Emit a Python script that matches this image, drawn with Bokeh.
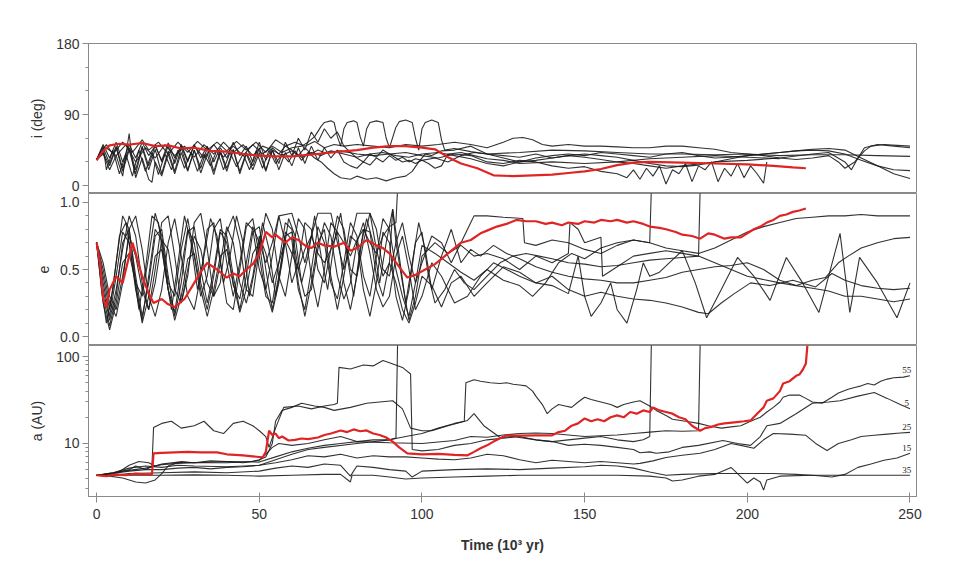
from bokeh.plotting import figure
from bokeh.layouts import column
from bokeh.models import Range1d, FixedTicker, ColumnDataSource, PrintfTickFormatter
from bokeh.core.properties import value
from bokeh.embed import file_html
from bokeh.resources import INLINE

# ---------------- data: time in 10^3 yr ----------------
x_ticks = [0, 50, 100, 150, 200, 250]
i_ticks = [0, 90, 180]
i_minor = [30, 60, 120, 150]
e_ticks = [0.0, 0.5, 1.0]
e_minor = [0.1, 0.2, 0.3, 0.4, 0.6, 0.7, 0.8, 0.9]
a_ticks = [10, 100]
a_minor = [3, 4, 5, 6, 7, 8, 9, 20, 30, 40, 50, 60, 70, 80, 90]

# inclination (deg)
i_red = [(0,32),(2,44),(4,51),(7,53),(10,52),(14,54),(18,50),(22,51),(26,47),(30,48),(35,44),(40,43),(45,40),(50,38),(55,37),(60,37),(65,39),(70,41),(75,43),(80,45),(85,48),(90,50),(95,50),(100,48),(104,46),(108,36),(112,28),(117,22),(122,13),(128,12),(134,13),(140,14),(145,16),(150,18),(155,21),(160,26),(165,29),(170,30),(180,29),(190,28),(200,27),(208,25),(214,23),(218,22)]
i_1 = [(0,33),(2,48),(4,28),(6,50),(8,22),(10,48),(12,20),(14,50),(16,25),(18,52),(20,30),(22,50),(24,28),(26,52),(28,32),(30,50),(33,35),(36,52),(39,36),(42,50),(45,38),(48,52),(51,40),(54,50),(57,42),(60,48),(63,50),(65,55),(67,62),(69,75),(70,80),(72,82),(73,80),(74,62),(75,50),(76,72),(77,80),(79,82),(80,80),(81,62),(82,50),(83,72),(84,80),(86,82),(88,80),(89,60),(90,48),(92,74),(93,81),(95,83),(97,80),(98,60),(99,45),(100,72),(101,80),(103,83),(105,80),(106,58),(107,45),(110,47),(115,43),(120,40),(130,42),(140,45),(150,44),(160,42),(170,40),(180,40),(190,39),(200,40),(210,38),(220,39),(230,39),(240,38),(250,37)]
i_2 = [(0,33),(2,50),(3,20),(5,45),(7,15),(9,40),(11,12),(13,45),(15,18),(17,42),(19,14),(21,40),(23,20),(25,45),(27,22),(29,42),(31,18),(33,40),(35,25),(37,45),(39,20),(41,42),(43,24),(45,40),(47,20),(49,44),(51,22),(53,45),(55,28),(57,40),(59,30),(61,44),(63,32),(65,42),(67,35),(69,30),(71,22),(73,15),(75,10),(78,8),(80,12),(83,8),(86,10),(89,6),(92,10),(95,12),(97,18),(99,30),(101,40),(103,38),(106,44),(110,45),(115,50),(120,40),(125,38),(130,36),(135,40),(140,35),(145,38),(150,36),(155,33),(160,30),(165,28),(170,25),(175,22),(180,25),(190,30),(200,32),(210,35),(220,40),(225,42),(230,30),(232,20),(234,35),(236,48),(240,52),(245,50),(250,48)]
i_3 = [(0,33),(2,52),(4,35),(6,55),(8,30),(10,52),(12,35),(14,55),(16,38),(18,50),(20,32),(22,54),(24,35),(26,50),(28,30),(30,52),(32,35),(34,50),(36,30),(38,48),(40,35),(42,55),(44,38),(46,50),(48,30),(50,55),(52,32),(54,48),(56,40),(58,50),(60,45),(62,38),(64,48),(66,40),(68,45),(70,42),(75,44),(80,40),(85,38),(90,40),(95,42),(100,38),(105,35),(110,40),(115,38),(120,30),(125,28),(130,32),(135,30),(140,25),(145,22),(150,24),(155,18),(160,15),(163,10),(165,20),(167,8),(169,22),(171,12),(173,25),(175,2),(177,20),(179,15),(181,28),(183,5),(185,25),(187,20),(189,30),(191,5),(193,22),(195,12),(197,28),(199,10),(201,25),(203,15),(205,3),(206,30)]
i_4 = [(0,33),(3,52),(5,40),(8,55),(11,42),(14,58),(16,45),(19,55),(22,40),(25,55),(28,42),(31,56),(34,45),(37,55),(40,44),(43,56),(46,45),(49,55),(52,42),(55,58),(58,50),(61,55),(64,50),(67,56),(70,48),(73,52),(76,50),(80,52),(85,50),(90,48),(95,52),(100,50),(105,52),(110,55),(115,52),(120,48),(125,55),(128,60),(131,61),(134,58),(137,52),(140,50),(145,52),(150,50),(155,50),(160,49),(165,48),(170,48),(175,50),(180,50),(185,48),(190,46),(195,42),(200,40),(205,38),(210,35),(215,33),(220,35),(225,38),(228,30),(230,22),(233,30),(236,44),(238,50),(242,52),(246,51),(250,50)]
i_5 = [(0,33),(2,42),(4,25),(6,48),(8,18),(10,45),(12,15),(14,48),(16,20),(18,46),(20,15),(22,44),(24,18),(26,48),(28,20),(30,45),(32,22),(34,48),(36,18),(38,44),(40,22),(42,46),(44,18),(46,42),(48,25),(50,48),(52,20),(54,45),(56,28),(58,55),(60,38),(62,60),(64,45),(66,68),(68,55),(70,72),(72,60),(74,68),(76,50),(78,42),(80,35),(82,30),(84,40),(86,36),(88,45),(90,40),(92,35),(94,30),(96,32),(98,28),(100,32),(104,35),(108,30),(112,38),(116,42),(120,40),(125,35),(130,30),(135,32),(140,35),(145,38),(150,40),(155,38),(160,36),(165,32),(170,28),(175,25),(180,24),(185,26),(190,30),(195,34),(200,38),(205,40),(210,42),(215,44),(220,45),(225,44),(230,40),(235,32),(240,25),(245,20),(250,19)]
i_6 = [(0,33),(3,48),(6,38),(9,52),(12,30),(15,48),(18,35),(21,52),(24,38),(27,50),(30,36),(33,52),(36,40),(39,55),(42,42),(45,52),(48,38),(51,50),(54,45),(57,38),(60,44),(63,36),(66,42),(69,38),(72,44),(76,40),(80,36),(84,40),(88,42),(92,38),(96,36),(100,40),(105,42),(110,38),(115,34),(120,28),(125,25),(130,30),(135,35),(140,38),(145,40),(150,38),(155,42),(160,40),(165,38),(170,36),(175,40),(180,42),(185,38),(190,35),(195,36),(200,38),(205,40),(210,42),(215,44),(220,46),(225,47),(230,45),(235,35),(240,25),(245,15),(250,9)]
i_7 = [(0,33),(2,40),(4,20),(6,38),(8,12),(10,66),(11,30),(12,10),(14,35),(16,8),(17,4),(18,30),(20,12),(22,40),(24,15),(26,42),(28,18),(30,45),(32,16),(34,40),(36,14),(38,42),(40,18),(42,45),(44,15),(46,40),(48,20),(50,42),(52,18),(54,45),(56,20),(58,42),(60,25),(62,48),(64,28),(66,50),(68,32),(70,48),(72,35),(74,45),(76,30),(78,25),(80,22),(82,30),(84,26),(86,35),(88,30),(90,38),(92,32),(94,36),(96,30),(98,34),(100,32),(102,28),(104,22),(106,25),(108,40),(112,42),(116,38),(120,34),(125,32),(130,28),(140,30),(150,28),(160,30),(170,34),(180,36),(190,38),(200,36),(210,34)]

# eccentricity
e_red = [(0,0.70),(1,0.55),(2,0.28),(3,0.22),(4,0.35),(6,0.45),(8,0.40),(10,0.60),(11,0.70),(12,0.62),(14,0.45),(16,0.32),(17.5,0.25),(20,0.28),(22,0.24),(24,0.22),(27,0.28),(30,0.40),(32,0.48),(34,0.55),(37,0.50),(40,0.44),(42,0.47),(44,0.45),(46,0.50),(48,0.54),(50,0.62),(52,0.78),(54,0.74),(55,0.76),(58,0.70),(60,0.74),(62,0.72),(64,0.68),(66,0.66),(68,0.70),(70,0.68),(73,0.67),(76,0.70),(78,0.64),(80,0.66),(83,0.72),(86,0.68),(88,0.66),(90,0.62),(93,0.52),(95.5,0.44),(98,0.46),(101,0.50),(104,0.54),(106,0.58),(108,0.62),(110,0.66),(112,0.70),(115,0.72),(118,0.77),(120,0.79),(123,0.82),(126,0.84),(129,0.87),(132,0.86),(135,0.86),(138,0.84),(140,0.85),(143,0.83),(145,0.85),(148,0.84),(150,0.86),(153,0.85),(155,0.87),(158,0.86),(160,0.87),(163,0.85),(165,0.86),(168,0.84),(170,0.82),(173,0.81),(175,0.80),(178,0.78),(180,0.76),(183,0.75),(185.5,0.73),(188,0.77),(190,0.76),(193,0.73),(195,0.74),(198,0.74),(200,0.77),(202,0.80),(204,0.82),(206,0.85),(208,0.87),(210,0.90),(212,0.91),(214,0.93),(216,0.94),(218,0.955)]
e_1 = [(0,0.70),(1.5,0.35),(3,0.10),(5,0.35),(7,0.75),(9,0.85),(11,0.55),(13,0.20),(15,0.50),(17,0.90),(19,0.85),(21,0.50),(23,0.20),(25,0.55),(27,0.90),(29,0.70),(31,0.35),(33,0.60),(35,0.88),(37,0.75),(39,0.40),(41,0.60),(43,0.90),(45,0.70),(47,0.30),(49,0.55),(51,0.85),(53,0.65),(55,0.30),(57,0.55),(59,0.88),(61,0.75),(63,0.40),(65,0.60),(67,0.90),(69,0.60),(71,0.35),(73,0.70),(75,0.92),(77,0.60),(79,0.30),(81,0.65),(83,0.88),(85,0.70),(87,0.40),(89,0.70),(91,0.95),(93,0.60),(95,0.25),(97,0.55),(99,0.85),(101,0.65),(103,0.35),(106,0.60),(109,0.80),(112,0.55),(115,0.65),(118,0.60),(122,0.68),(126,0.62),(130,0.58),(135,0.52),(140,0.48),(145,0.45),(150,0.43),(155,0.42),(160,0.40),(165,0.40),(170,0.42),(175,0.44),(180,0.48),(185,0.50),(190,0.52),(195,0.53),(200,0.55),(205,0.50),(210,0.42),(215,0.38),(220,0.36),(225,0.34),(230,0.30),(235,0.30),(240,0.28),(245,0.26),(250,0.28)]
e_2 = [(0,0.70),(2,0.30),(4,0.08),(6,0.30),(8,0.70),(10,0.80),(12,0.45),(14,0.15),(16,0.40),(18,0.75),(20,0.80),(22,0.45),(24,0.15),(26,0.40),(28,0.78),(30,0.82),(32,0.50),(34,0.25),(36,0.50),(38,0.80),(40,0.75),(42,0.45),(44,0.20),(46,0.45),(48,0.78),(50,0.82),(52,0.50),(54,0.20),(56,0.45),(58,0.75),(60,0.78),(62,0.40),(64,0.15),(66,0.40),(68,0.70),(70,0.80),(72,0.45),(74,0.20),(76,0.45),(78,0.75),(80,0.70),(82,0.35),(84,0.15),(86,0.40),(88,0.78),(90,0.70),(92,0.30),(94,0.12),(96,0.35),(98,0.70),(100,0.78),(102,0.45),(104,0.25),(107,0.35),(110,0.50),(113,0.40),(116,0.35),(120,0.45),(124,0.55),(128,0.60),(132,0.62),(136,0.60),(140,0.58),(145,0.55),(150,0.54),(155,0.52),(160,0.53),(165,0.55),(170,0.57),(175,0.58),(180,0.59),(185,0.60),(190,0.55),(195,0.50),(200,0.45),(210,0.40),(215,0.38),(220,0.42),(224,0.44),(228,0.55),(231,0.60),(235,0.66),(240,0.70),(245,0.73),(250,0.74)]
e_3 = [(0,0.70),(2,0.45),(4,0.20),(6,0.55),(8,0.90),(10,0.80),(12,0.40),(14,0.30),(16,0.60),(18,0.92),(20,0.75),(22,0.40),(24,0.30),(26,0.65),(28,0.88),(30,0.60),(32,0.30),(34,0.45),(36,0.80),(38,0.88),(40,0.55),(42,0.30),(44,0.55),(46,0.85),(48,0.80),(50,0.50),(52,0.35),(54,0.60),(56,0.90),(58,0.70),(60,0.40),(62,0.55),(64,0.85),(66,0.80),(68,0.50),(70,0.40),(72,0.65),(74,0.90),(76,0.80),(78,0.50),(80,0.45),(82,0.70),(84,0.92),(86,0.80),(88,0.50),(90,0.45),(92,0.70),(94,0.85),(96,0.60),(98,0.40),(100,0.55),(103,0.75),(106,0.70),(109,0.55),(112,0.70),(115,0.85),(116,0.90),(120,0.90),(125,0.89),(131,0.88),(131.5,0.70),(135,0.68),(140,0.72),(145,0.70),(150,0.65),(155,0.62),(160,0.68),(165,0.72),(170,0.70),(175,0.66),(180,0.64),(185,0.62),(190,0.66),(195,0.72),(200,0.78),(205,0.82),(210,0.85),(215,0.88),(220,0.89),(225,0.90),(230,0.90),(235,0.91),(240,0.90),(245,0.90),(250,0.90)]
e_4 = [(0,0.70),(2,0.50),(4,0.25),(6,0.15),(8,0.40),(10,0.80),(12,0.90),(14,0.65),(16,0.30),(18,0.15),(20,0.35),(22,0.70),(24,0.88),(26,0.60),(28,0.30),(30,0.20),(32,0.45),(34,0.80),(36,0.85),(38,0.55),(40,0.25),(42,0.20),(44,0.50),(46,0.82),(48,0.88),(50,0.60),(52,0.30),(54,0.25),(56,0.55),(58,0.85),(60,0.80),(62,0.50),(64,0.30),(66,0.35),(68,0.65),(70,0.85),(72,0.75),(74,0.45),(76,0.28),(78,0.40),(80,0.70),(82,0.85),(84,0.62),(86,0.35),(88,0.22),(90,0.30),(92,0.60),(94,0.75),(96,0.50),(98,0.20),(100,0.30),(103,0.55),(106,0.45),(110,0.25),(114,0.30),(118,0.45),(122,0.55),(126,0.50),(130,0.45),(135,0.40),(140,0.38),(145,0.32),(148,0.60),(150,0.30),(152,0.15),(155,0.25),(158,0.40),(160,0.20),(163,0.10),(166,0.35),(168,0.55),(170,0.45),(173,0.48),(176,0.55),(180,0.64),(184,0.40),(187.5,0.14),(192,0.35),(197,0.59),(202,0.45),(207,0.27),(212,0.59),(217,0.40),(222,0.18),(225,0.45),(228.5,0.77),(231.5,0.18),(234.5,0.59),(240,0.40),(246,0.14),(250,0.40)]
e_5 = [(0,0.70),(2,0.40),(4,0.15),(6,0.45),(8,0.78),(10,0.70),(12,0.35),(14,0.12),(16,0.45),(18,0.80),(20,0.72),(22,0.35),(24,0.18),(26,0.50),(28,0.80),(30,0.70),(32,0.40),(34,0.20),(36,0.45),(38,0.78),(40,0.70),(42,0.38),(44,0.28),(46,0.55),(48,0.82),(50,0.70),(52,0.35),(54,0.18),(56,0.40),(58,0.78),(60,0.72),(62,0.35),(64,0.20),(66,0.50),(68,0.82),(70,0.70),(72,0.40),(74,0.28),(76,0.55),(78,0.85),(80,0.75),(82,0.45),(84,0.30),(86,0.60),(88,0.88),(90,0.80),(92,0.50),(94,0.30),(96,0.15),(98,0.40),(100,0.68),(104,0.62),(108,0.55),(112,0.48),(116,0.42),(120,0.50),(125,0.42),(130,0.38),(134,0.30),(138,0.40),(142,0.55),(146,0.62),(150,0.58),(155,0.66),(160,0.70),(165,0.72),(170,0.70),(170.5,1.1)]
e_6 = [(0,0.70),(2,0.35),(4,0.12),(6,0.35),(8,0.65),(10,0.90),(12,0.75),(14,0.40),(16,0.20),(18,0.50),(20,0.85),(22,0.90),(24,0.60),(26,0.25),(28,0.45),(30,0.85),(32,0.92),(34,0.65),(36,0.30),(38,0.40),(40,0.78),(42,0.90),(44,0.70),(46,0.35),(48,0.30),(50,0.65),(52,0.92),(54,0.80),(56,0.45),(58,0.30),(60,0.60),(62,0.88),(64,0.80),(66,0.45),(68,0.22),(70,0.50),(72,0.85),(74,0.78),(76,0.40),(78,0.20),(80,0.45),(82,0.80),(84,0.78),(86,0.45),(88,0.30),(90,0.55),(91,0.95),(92,0.70),(94,0.40),(96,0.12),(98,0.30),(100,0.60),(104,0.70),(108,0.62),(112,0.68),(116,0.60),(120,0.62),(125,0.58),(130,0.50),(135,0.60),(140,0.55),(145,0.62),(145.5,0.85),(148,0.80),(150,0.70),(155,0.74),(155.5,0.45),(160,0.52),(165,0.60),(170,0.62),(175,0.64),(180,0.62),(185,0.60),(185.5,1.1)]
e_7 = [(0,0.70),(2,0.55),(4,0.30),(6,0.20),(8,0.45),(10,0.75),(12,0.60),(14,0.35),(16,0.20),(18,0.40),(20,0.72),(22,0.65),(24,0.35),(26,0.25),(28,0.50),(30,0.75),(32,0.65),(34,0.40),(36,0.30),(38,0.55),(40,0.82),(42,0.70),(44,0.40),(46,0.25),(48,0.45),(50,0.75),(52,0.62),(54,0.40),(56,0.55),(58,0.72),(60,0.62),(62,0.50),(64,0.65),(66,0.75),(68,0.62),(70,0.55),(72,0.65),(74,0.78),(76,0.70),(78,0.60),(80,0.72),(82,0.80),(84,0.70),(86,0.62),(88,0.75),(90,0.82),(92,0.85),(92.5,1.1)]
e_8 = [(0,0.70),(2,0.25),(4,0.05),(6,0.25),(8,0.55),(10,0.62),(12,0.40),(14,0.10),(16,0.30),(18,0.60),(20,0.65),(22,0.35),(24,0.12),(26,0.30),(28,0.58),(30,0.62),(32,0.35),(34,0.15),(36,0.35),(38,0.60),(40,0.65),(42,0.40),(44,0.18),(46,0.35),(48,0.62),(50,0.70),(52,0.55),(54,0.70),(56,0.90),(60,0.92),(62,0.75),(64,0.55),(66,0.75),(68,0.92),(72,0.92),(74,0.70),(76,0.50),(78,0.70),(80,0.92),(84,0.92),(86,0.65),(88,0.45),(90,0.55),(92,0.40),(94,0.20),(96,0.10),(98,0.25),(100,0.45),(103,0.38),(106,0.22),(109,0.40),(112,0.45),(116,0.30),(120,0.40),(125,0.52),(130,0.48),(135,0.40),(140,0.45),(145,0.35),(150,0.30),(155,0.33),(160,0.30),(165,0.28),(170,0.27),(175,0.25),(180,0.22),(185,0.18),(188,0.17),(192,0.25),(196,0.32),(201,0.40),(207,0.38),(214,0.42),(221,0.37),(226,0.47),(230,0.42),(235,0.38),(240,0.36),(245,0.35),(250,0.36)]

# semimajor axis (AU)
a_red = [(0,4.3),(3,4.2),(6,4.4),(9,4.3),(12,4.5),(15,4.4),(17,4.4),(17.5,7.7),(20,7.8),(24,7.9),(28,8.0),(32,7.9),(37,7.9),(40,7.5),(45,7.3),(48,7.1),(51,6.9),(52,8),(53,14),(54,12.5),(55,13),(56,11.5),(57,12),(59,10.8),(61,11),(63,11.4),(65,11.2),(68,11.7),(70,12.5),(72,13),(75,14.1),(77,13.5),(79,14.5),(81,13.8),(83,14.1),(85,13),(87,12.5),(89,11.7),(91,10.5),(93,9),(95.5,7.7),(100,7.5),(105,7.6),(110,7.4),(114,7.3),(116,8),(118,8.8),(120,9.5),(122,10.5),(124,11.5),(126,12.4),(130,12.3),(135,12.4),(140,12.4),(142,13.5),(144,14),(146,16),(148,17),(150,19.4),(152,18),(154,19),(156,18),(158,20),(160,21),(162,20),(164,23),(166,22),(168,24),(170,23),(171,26),(173,24),(175,23),(177,22),(179,20),(181,19),(183,16),(185.5,14),(187,15),(189,15.5),(191,16.5),(193,17),(196,17.5),(199,18),(201,18.4),(203,22),(205,26),(206,31),(208,33),(210,40),(211,49),(213,52),(215,60),(216,62),(217,70),(218,83),(218.5,140)]
a_1 = [(0,4.3),(5,4.6),(10,5.2),(15,5.5),(20,5.3),(25,5.6),(30,5.5),(40,5.4),(50,5.6),(55,6.5),(60,7.5),(65,8.5),(70,9),(80,10),(90,11),(95,12),(100,13),(105,15),(110,17),(113,18),(113.5,50),(116,54),(118,52),(121,50),(124,49),(126,50),(128,48),(130,47),(132,46),(134,40),(135,35),(137,28),(138.5,22),(140,25),(142,28),(144,27),(146,26),(148,30),(150,34),(152,32),(155,30),(158,28),(160,26),(162,28),(165,30),(167,31),(170,27),(172,24),(175,21),(177,19),(181,18),(185,17),(188,16),(192,15),(195,15.5),(198,16),(201,18),(204,20),(206,23),(208,26),(210,30),(211,34),(213,36),(216,36),(218,33),(220,30),(223,29),(226,34),(228,38),(231,42),(233,44),(235,46),(237,49),(239,47),(241,52),(243,55),(245,57),(248,58),(250,60)]
a_2 = [(0,4.3),(5,4.5),(10,5.0),(12,5.5),(15,5.0),(17,5.4),(17.5,15.3),(20,17),(23,18),(26,15),(30,16),(33,18),(36,14),(39,13),(42,17),(45,18),(48,16),(50,14),(52,12),(53,9),(55,15),(57.5,26),(62,27),(66,25),(70,27),(73,28),(74,29),(74.5,75),(78,72),(82,80),(85,78),(88,90),(90,85),(94,75),(96.5,63),(97,8.5),(100,8.2),(105,8.5),(110,9.5),(115,10),(120,11),(125,11.5),(130,12),(135,11),(140,10.5),(145,11),(150,11.5),(155,12),(160,11),(165,10.5),(168,11),(170,12),(170.5,140)]
a_3 = [(0,4.3),(4,4.2),(8,4.0),(12,3.6),(15,3.5),(18,3.8),(20,4.5),(22,5.5),(26,6.2),(30,6.0),(35,6.3),(40,6.2),(45,6.0),(50,6.4),(52,7.5),(54,9),(56,10),(60,9.5),(65,10),(70,11),(75,12),(80,10.5),(85,11),(90,11),(92,11.5),(92.5,140)]
a_4 = [(0,4.3),(5,4.4),(8,5.0),(10,5.6),(13,6.2),(16,6.0),(18,5.5),(20,5.8),(25,6.1),(30,6.0),(40,6.0),(48,6.2),(50,6.5),(52,7.0),(54,10),(55,18),(57,24),(60,26),(63,29),(67,27),(70,26),(73,24),(78,26),(83,29),(87,30),(91,31),(94,25),(96.5,15),(100,14),(103,14),(108,16),(114,18.4),(116,22),(119,16),(124,11.7),(128,12),(135,11),(140,10.5),(145,9.5),(150,9.8),(155,9.5),(160,9),(165,8.5),(167,7.8),(170,8),(172,7.7),(176,8),(180,9),(185,9.5),(192.5,10.8),(197,10),(201,9.5),(204,12),(206,16),(210,17),(215,22),(220,29),(225,30),(228.5,31),(234,35),(239,38.5),(243,33),(247,28),(250,25)]
a_5 = [(0,4.3),(5,4.5),(10,4.8),(15,5.0),(20,5.0),(25,5.2),(30,5.3),(35,5.1),(40,5.3),(45,5.4),(50,5.6),(55,6.0),(60,6.5),(65,7.2),(70,7.0),(75,7.5),(80,6.8),(85,7.2),(90,7.0),(95,7.0),(100,6.8),(105,6.6),(110,6.5),(115,6.8),(120,7.5),(125,7.2),(130,6.5),(135,6.0),(140,6.4),(145,6.2),(150,6.0),(155,6.2),(160,6.0),(165,5.8),(167,5.9),(171,6.3),(175,6.9),(180,7.3),(185.5,7.7),(190,8.5),(195,10),(198,9.5),(202,8.8),(205,11),(208,13),(213,12.8),(218,12.4),(221,10),(224.5,8.3),(228,10),(232,11),(235,12),(239,12.4),(243,12.8),(247,13.2),(250,13.4)]
a_6 = [(0,4.3),(5,4.3),(10,4.5),(20,4.6),(30,4.7),(40,4.6),(50,4.8),(55,5.2),(60,5.5),(65,5.3),(70,5.8),(75,5.6),(78,4.2),(80,5.5),(85,5.3),(90,5.0),(95,4.8),(97,4.1),(100,4.8),(110,5.0),(120,5.1),(130,5.0),(140,5.2),(150,5.4),(155,5.6),(160,5.5),(165,5.2),(170,4.7),(175,4.3),(180,4.4),(190,4.5),(200,4.5),(208,4.5),(215,4.4),(220,4.3),(226,4.1),(230,4.4),(234,5.3),(238,5.8),(242,6.4),(246,6.8),(250,7.7)]
a_7 = [(0,4.3),(10,4.3),(20,4.3),(30,4.35),(40,4.3),(50,4.2),(60,4.3),(70,4.4),(75,4.4),(78,3.6),(78.5,4.3),(85,4.3),(90,4.1),(95,3.9),(100,4.0),(110,4.1),(120,4.2),(130,4.3),(140,4.3),(150,4.3),(160,4.3),(170,4.2),(175,4.0),(177,3.7),(180,3.8),(185,4.2),(190,4.4),(195,5.3),(197,4.5),(200,3.5),(202,4.0),(204,3.6),(205,2.9),(206,3.8),(210,4.2),(220,4.3),(230,4.3),(240,4.3),(250,4.3)]
a_8 = [(0,4.3),(5,4.6),(10,4.9),(15,5.2),(20,5.7),(25,5.9),(30,6.0),(40,6.2),(50,6.1),(55,7.0),(60,8.0),(65,8.8),(70,9.5),(75,10.0),(80,10.5),(90,10.2),(100,10.0),(110,10.8),(115,12.0),(120,11.8),(125,12.5),(130,13.0),(135,13.2),(140,13.0),(150,12.0),(160,12.5),(165,13.0),(170,13.5),(175,14.0),(180,13.8),(185,14.0),(185.5,140)]

clone_labels = ["55", "5", "25", "15", "35"]
labelled_lines = [a_1, a_4, a_5, a_6, a_7]

# ---------------- styling ----------------
FONT = "Liberation Sans"
AX = "#8a8a8a"
TXT = "#333333"
BLACK = "#1c1c1c"
RED = "#e02424"

x_range = Range1d(-2.5, 252)


def style(p, ylabel, ticks, minor, fmt=None):
    p.grid.visible = False
    p.outline_line_color = AX
    p.outline_line_width = 1
    yax = p.yaxis[0]
    yax.ticker = FixedTicker(ticks=ticks, minor_ticks=minor)
    yax.axis_label = ylabel
    yax.axis_label_text_font = FONT
    yax.axis_label_text_font_size = "14px"
    yax.axis_label_text_font_style = "normal"
    yax.axis_label_text_color = TXT
    yax.axis_label_standoff = 8
    yax.major_label_text_font = FONT
    yax.major_label_text_font_size = "14px"
    yax.major_label_text_color = TXT
    yax.major_label_standoff = 3
    yax.axis_line_color = AX
    yax.major_tick_line_color = AX
    yax.minor_tick_line_color = AX
    yax.major_tick_out = 6
    yax.major_tick_in = 0
    yax.minor_tick_out = 3
    yax.minor_tick_in = 0
    if fmt is not None:
        yax.formatter = PrintfTickFormatter(format=fmt)


def add_lines(p, lines, red):
    for ln in lines:
        src = ColumnDataSource(dict(t=[q[0] for q in ln], v=[q[1] for q in ln]))
        p.line("t", "v", source=src, line_color=BLACK, line_width=1.1, line_alpha=0.9)
    src = ColumnDataSource(dict(t=[q[0] for q in red], v=[q[1] for q in red]))
    p.line("t", "v", source=src, line_color=RED, line_width=2.2)


common = dict(width=956, x_range=x_range, output_backend="svg", toolbar_location=None,
              min_border_left=88, min_border_right=40)

p1 = figure(height=193, y_range=Range1d(-10, 180), x_axis_location=None,
            min_border_top=43, min_border_bottom=0, **common)
style(p1, "i (deg)", i_ticks, i_minor, "%d")
add_lines(p1, [i_1, i_2, i_3, i_4, i_5, i_6, i_7], i_red)

p2 = figure(height=152, y_range=Range1d(-0.067, 1.067), x_axis_location=None,
            min_border_top=0, min_border_bottom=0, **common)
style(p2, "e", e_ticks, e_minor, "%.1f")
add_lines(p2, [e_1, e_2, e_3, e_4, e_5, e_6, e_7, e_8], e_red)

p3 = figure(height=230, y_range=Range1d(2.45, 134), y_axis_type="log",
            min_border_top=0, min_border_bottom=79, **common)
style(p3, "a (AU)", a_ticks, a_minor, "%d")
add_lines(p3, [a_1, a_2, a_3, a_4, a_5, a_6, a_7, a_8], a_red)

xax = p3.xaxis[0]
xax.ticker = FixedTicker(ticks=x_ticks, minor_ticks=[])
xax.axis_label = "Time (10³ yr)"
xax.axis_label_text_font = FONT
xax.axis_label_text_font_size = "14px"
xax.axis_label_text_font_style = "bold"
xax.axis_label_text_color = TXT
xax.axis_label_standoff = 15
xax.major_label_text_font = FONT
xax.major_label_text_font_size = "14px"
xax.major_label_text_color = TXT
xax.major_label_standoff = 6
xax.axis_line_color = AX
xax.major_tick_line_color = AX
xax.major_tick_out = 6
xax.major_tick_in = 4

lab_src = ColumnDataSource(dict(
    t=[ln[-1][0] - 1 for ln in labelled_lines],
    v=[ln[-1][1] * 1.16 for ln in labelled_lines],
    s=clone_labels))
p3.text("t", "v", text="s", source=lab_src, text_font=value("Liberation Serif"),
        text_font_size="9px", text_align="center", text_baseline="middle", text_color="#222222")

layout = column(p1, p2, p3, spacing=0)
open("out.html", "w").write(file_html(layout, INLINE))
